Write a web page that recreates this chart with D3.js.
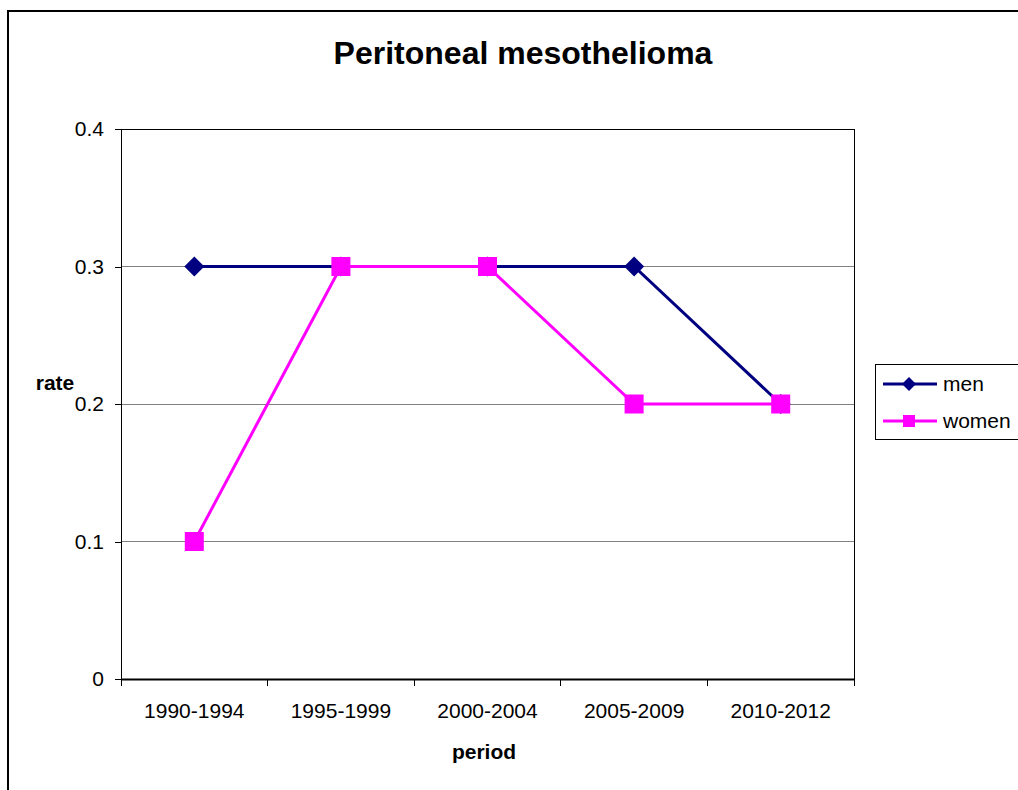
<!DOCTYPE html>
<html><head><meta charset="utf-8">
<script src="https://cdn.jsdelivr.net/npm/d3@7"></script>
<style>body{margin:0;background:#fff}svg{display:block;font-family:"Liberation Sans",Arial,sans-serif}</style>
</head><body><svg id="c" width="1018" height="790"></svg>
<script>
const categories = ["1990-1994","1995-1999","2000-2004","2005-2009","2010-2012"];
const men = [0.3,0.3,0.3,0.3,0.2];
const women = [0.1,0.3,0.3,0.2,0.2];
const yTicks = [0,0.1,0.2,0.3,0.4];
const yTickLabels = ["0","0.1","0.2","0.3","0.4"];

const svg = d3.select("#c");
const L=121,R=854,T=129,B=679;
const FONT="Liberation Sans, Arial, sans-serif";
svg.append("rect").attr("x",8).attr("y",11).attr("width",1030).attr("height",800)
  .attr("fill","none").attr("stroke","#000").attr("stroke-width",2);

const x = d3.scaleBand().domain(categories).range([L,R]);
const y = d3.scaleLinear().domain([0,0.4]).range([B,T]);

svg.append("g").selectAll("line").data(yTicks.filter(d=>d>0&&d<0.4)).join("line")
  .attr("x1",L).attr("x2",R).attr("y1",d=>y(d)).attr("y2",d=>y(d))
  .attr("stroke","#808080").attr("stroke-width",1).attr("shape-rendering","crispEdges");
svg.append("rect").attr("x",L).attr("y",T).attr("width",R-L).attr("height",B-T)
  .attr("fill","none").attr("stroke","#000").attr("stroke-width",1).attr("shape-rendering","crispEdges");

const yAxis = d3.axisLeft(y).tickValues(yTicks).tickFormat((d,i)=>yTickLabels[i]).tickSize(6).tickPadding(11);
const gy = svg.append("g").attr("transform",`translate(${L},0)`).call(yAxis);
gy.select(".domain").attr("stroke","#000").attr("shape-rendering","crispEdges");
gy.selectAll(".tick line").attr("shape-rendering","crispEdges");
gy.selectAll("text").attr("font-size",21).attr("font-family",FONT).attr("fill","#000");

const xAxis = d3.axisBottom(x).tickSize(0).tickPadding(24);
const gx = svg.append("g").attr("transform",`translate(0,${B})`).call(xAxis);
gx.select(".domain").attr("stroke","#000").attr("stroke-width",2);
gx.selectAll("text").attr("font-size",21).attr("font-family",FONT).attr("fill","#000");
const bounds = categories.map(c=>x(c)).concat([R]);
svg.append("g").selectAll("line").data(bounds).join("line")
  .attr("x1",d=>d).attr("x2",d=>d).attr("y1",B).attr("y2",B+7)
  .attr("stroke","#000").attr("shape-rendering","crispEdges");

const cx = c=>x(c)+x.bandwidth()/2;
const line = d3.line().x((d,i)=>cx(categories[i])).y(d=>y(d));

svg.append("path").datum(men).attr("d",line).attr("fill","none").attr("stroke","#000080").attr("stroke-width",3);
svg.append("g").selectAll("path").data(men).join("path")
  .attr("transform",(d,i)=>`translate(${cx(categories[i])},${y(d)})`)
  .attr("d","M0,-10L10,0L0,10L-10,0Z").attr("fill","#000080");

svg.append("path").datum(women).attr("d",line).attr("fill","none").attr("stroke","#FF00FF").attr("stroke-width",3);
svg.append("g").selectAll("rect").data(women).join("rect")
  .attr("x",(d,i)=>cx(categories[i])-9.5).attr("y",d=>y(d)-9.5).attr("width",19).attr("height",19)
  .attr("fill","#FF00FF");

svg.append("text").attr("x",523).attr("y",64).attr("text-anchor","middle")
  .attr("font-size",32).attr("font-weight","bold").text("Peritoneal mesothelioma");
svg.append("text").attr("x",55).attr("y",390).attr("text-anchor","middle")
  .attr("font-size",21).attr("font-weight","bold").text("rate");
svg.append("text").attr("x",484).attr("y",759).attr("text-anchor","middle")
  .attr("font-size",21).attr("font-weight","bold").text("period");

const lg = svg.append("g");
lg.append("rect").attr("x",875.5).attr("y",364.5).attr("width",160).attr("height",75)
  .attr("fill","#fff").attr("stroke","#000").attr("stroke-width",1);
const items=[{n:"men",c:"#000080",s:"d"},{n:"women",c:"#FF00FF",s:"s"}];
items.forEach((it,i)=>{
  const yy = 384+i*37;
  lg.append("line").attr("x1",883).attr("x2",937).attr("y1",yy).attr("y2",yy).attr("stroke",it.c).attr("stroke-width",3);
  if(it.s==="d") lg.append("path").attr("transform",`translate(909,${yy})`).attr("d","M0,-7L7,0L0,7L-7,0Z").attr("fill",it.c);
  else lg.append("rect").attr("x",903).attr("y",yy-6).attr("width",12).attr("height",12).attr("fill",it.c);
  lg.append("text").attr("x",943).attr("y",yy+7).attr("font-size",21).text(it.n);
});
</script></body></html>
